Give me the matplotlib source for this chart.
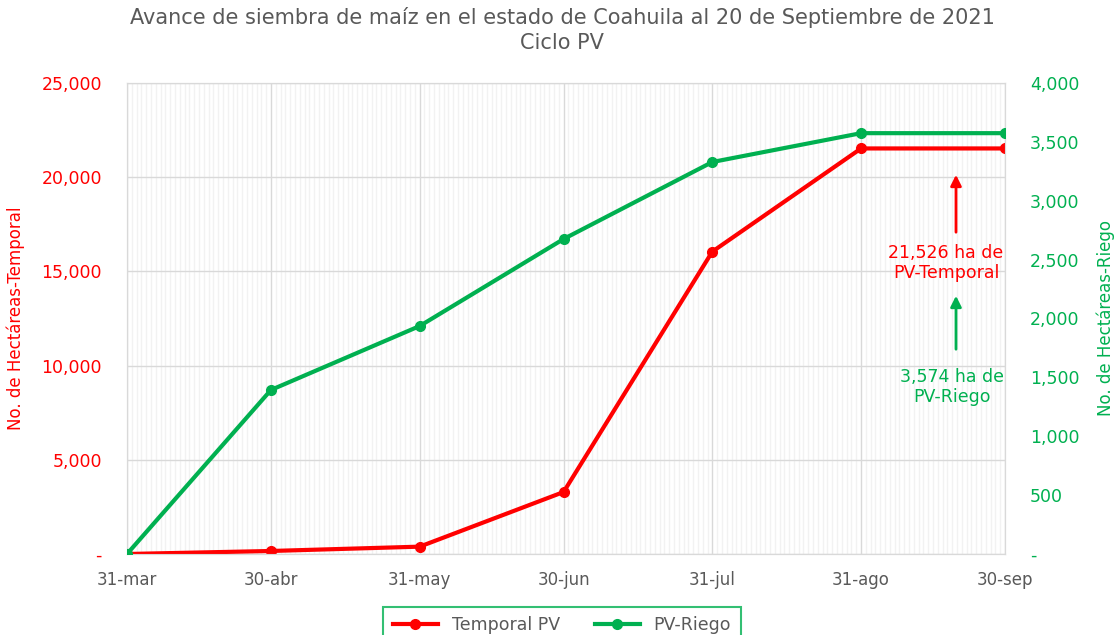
import matplotlib
matplotlib.use('Agg')
import matplotlib.pyplot as plt
import matplotlib.dates as mdates
from matplotlib.ticker import FixedLocator, FuncFormatter
import numpy as np
import pandas as pd

# datos
fechas = pd.to_datetime(['2021-03-31', '2021-04-30', '2021-05-31', '2021-06-30',
                         '2021-07-31', '2021-08-31', '2021-09-30'])
etiquetas_x = ['31-mar', '30-abr', '31-may', '30-jun', '31-jul', '31-ago', '30-sep']
temporal = [0, 160, 390, 3290, 16050, 21526, 21526]
riego = [0, 1393, 1936, 2675, 3329, 3574, 3574]

rojo = '#ff0000'
verde = '#00b050'
gris = '#595959'

plt.rcParams['font.family'] = ['DejaVu Sans']

fig = plt.figure(figsize=(11.18, 6.35), dpi=100)
ax = fig.add_axes([127/1118, 1-554/635, (1005-127)/1118, (554-83)/635])
ax2 = ax.twinx()

ax.plot(fechas, temporal, color=rojo, lw=3, marker='o', ms=7, label='Temporal PV', zorder=3)
ax2.plot(fechas, riego, color=verde, lw=3, marker='o', ms=7, label='PV-Riego', zorder=3)

ax.set_xlim(fechas[0], fechas[-1])
ax.set_ylim(0, 25000)
ax2.set_ylim(0, 4000)

ax.xaxis.set_major_locator(FixedLocator(mdates.date2num(fechas)))
ax.set_xticklabels(etiquetas_x)
ax.xaxis.set_minor_locator(mdates.DayLocator())
ax.set_yticks(np.arange(0, 25001, 5000))
ax2.set_yticks(np.arange(0, 4001, 500))

fmt = FuncFormatter(lambda v, p: '-' if v == 0 else f'{v:,.0f}')
ax.yaxis.set_major_formatter(fmt)
ax2.yaxis.set_major_formatter(fmt)

ax.grid(which='major', color='#d9d9d9', lw=1)
ax.grid(which='minor', axis='x', color='#f2f2f2', lw=1)
ax.set_axisbelow(True)

ax.tick_params(axis='x', which='both', length=0, pad=12, labelsize=12, labelcolor=gris)
ax.tick_params(axis='y', length=0, pad=18, labelsize=12.5, labelcolor=rojo)
ax2.tick_params(axis='y', length=0, pad=18, labelsize=12.5, labelcolor=verde)
for a in (ax, ax2):
    for s in a.spines.values():
        s.set_color('#d9d9d9')

ax.set_ylabel('No. de Hectáreas-Temporal', color=rojo, fontsize=12, labelpad=12)
ax2.set_ylabel('No. de Hectáreas-Riego', color=verde, fontsize=12, labelpad=12)

fig.text(562/1118, 1-17/635, 'Avance de siembra de maíz en el estado de Coahuila al 20 de Septiembre de 2021',
         ha='center', va='center', fontsize=15, color=gris)
fig.text(562/1118, 1-43/635, 'Ciclo PV', ha='center', va='center', fontsize=15, color=gris)

# anotaciones
ax.annotate('', xy=(956/1118, 1-172/635), xytext=(956/1118, 1-235/635),
            xycoords='figure fraction', textcoords='figure fraction',
            arrowprops=dict(arrowstyle='-|>', color=rojo, lw=2, mutation_scale=16))
fig.text(946/1118, 1-263/635, '21,526 ha de\nPV-Temporal', ha='center', va='center',
         fontsize=12.5, color=rojo, linespacing=1.2)
ax.annotate('', xy=(956/1118, 1-293/635), xytext=(956/1118, 1-352/635),
            xycoords='figure fraction', textcoords='figure fraction',
            arrowprops=dict(arrowstyle='-|>', color=verde, lw=2, mutation_scale=16))
fig.text(952/1118, 1-387/635, '3,574 ha de\nPV-Riego', ha='center', va='center',
         fontsize=12.5, color=verde, linespacing=1.2)

h1, l1 = ax.get_legend_handles_labels()
h2, l2 = ax2.get_legend_handles_labels()
leg = fig.legend(h1 + h2, l1 + l2, loc='upper center', bbox_to_anchor=(562/1118, 1-598/635),
                 ncol=2, frameon=True, fancybox=False, fontsize=12.5, handlelength=2.6,
                 columnspacing=2, borderpad=0.55, labelcolor=gris)
leg.get_frame().set_edgecolor(verde)
leg.get_frame().set_linewidth(1.5)

fig.savefig('out.png', dpi=100)
